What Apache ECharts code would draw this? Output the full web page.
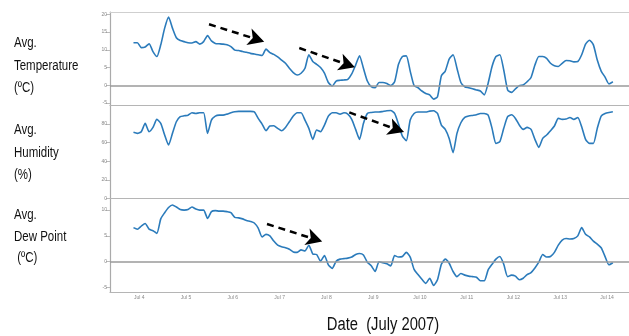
<!DOCTYPE html>
<html>
<head>
<meta charset="utf-8">
<script src="https://cdn.jsdelivr.net/npm/echarts@6/dist/echarts.min.js"></script>
<style>
html,body{margin:0;padding:0;background:#fff;}
#chart{width:629px;height:336px;}
</style>
</head>
<body>
<div id="chart"></div>
<script>
// time: day of July 2007 (fractional), first sample and step (2 hours)
const T0 = 3.875;
const STEP = 1 / 12;
const dayTicks = [4, 5, 6, 7, 8, 9, 10, 11, 12, 13, 14];
const tempTicks = [-5, 0, 5, 10, 15, 20];
const humTicks = [0, 20, 40, 60, 80];
const dewTicks = [-5, 0, 5, 10];

const temperature = [
  12.0, 12.0, 10.6, 10.8, 11.7, 9.5, 8.1, 11.4, 16.1, 19.2,
  16.1, 13.4, 12.6, 12.3, 12.0, 11.9, 12.3, 11.6, 12.3, 14.0,
  12.5, 11.8, 11.7, 11.6, 11.4, 10.9, 9.9, 9.8, 9.5, 9.3,
  9.0, 8.8, 8.6, 8.4, 10.2, 9.2, 8.7, 8.0, 7.1, 6.2,
  4.8, 3.6, 2.9, 3.4, 4.8, 8.6, 6.7, 5.9, 5.0, 3.4,
  0.8, -0.2, 1.2, 1.4, 1.5, 1.7, 3.2, 5.7, 8.3, 4.8,
  1.2, -0.4, -0.7, 0.8, 0.8, 0.5, -0.1, 1.0, 5.9, 8.1,
  8.3, 4.0, -0.1, -0.7, -1.6, -2.3, -2.7, -3.9, -3.2, 2.7,
  4.0, 7.4, 8.6, 4.8, 0.8, -0.4, -0.7, -1.0, -1.3, -1.6,
  -2.7, 0.6, 5.3, 8.1, 8.6, 4.3, -1.3, -2.0, -1.0, -0.1,
  0.1, 1.0, 2.2, 5.7, 8.1, 8.1, 7.6, 6.2, 5.5, 5.3,
  6.2, 7.0, 6.9, 6.6, 6.7, 8.6, 11.6, 12.7, 11.4, 7.1,
  4.0, 2.3, 0.4, 1.0
];

const humidity = [
  71.1, 70.0, 71.8, 80.7, 71.8, 76.4, 85.0, 80.7, 68.2, 57.5,
  70.0, 82.5, 87.9, 88.9, 89.6, 92.1, 91.4, 92.1, 92.1, 70.0,
  84.3, 88.6, 89.6, 89.6, 90.7, 92.1, 93.2, 93.6, 93.6, 93.6,
  93.6, 93.2, 86.1, 80.0, 72.9, 77.9, 78.2, 75.4, 72.9, 76.4,
  82.5, 88.6, 92.1, 92.1, 84.3, 75.4, 63.6, 73.6, 71.8, 78.9,
  88.6, 92.1, 92.1, 90.7, 92.1, 90.7, 85.0, 74.3, 63.6, 80.7,
  91.4, 92.5, 92.9, 92.9, 93.6, 94.3, 94.6, 91.4, 80.0, 67.1,
  62.1, 84.3, 91.4, 92.9, 92.9, 92.9, 93.9, 94.3, 91.4, 78.9,
  74.3, 64.6, 49.3, 70.0, 81.4, 87.1, 88.6, 89.3, 90.0, 91.4,
  91.4, 89.6, 75.4, 59.3, 61.1, 75.4, 87.9, 90.0, 86.1, 78.9,
  74.3, 76.4, 74.3, 63.6, 55.0, 64.6, 68.2, 72.9, 77.9, 86.1,
  85.0, 85.4, 87.1, 85.0, 87.1, 77.1, 63.6, 59.3, 59.3, 75.4,
  88.6, 91.4, 92.5, 93.2
];

const dewPoint = [
  6.6, 6.3, 6.9, 7.4, 6.3, 6.0, 5.5, 8.3, 9.5, 10.5,
  11.0, 10.6, 10.1, 10.0, 10.1, 10.6, 10.2, 10.0, 10.0, 8.4,
  9.7, 9.9, 9.8, 9.8, 9.7, 9.5, 8.6, 8.5, 8.3, 8.0,
  7.8, 7.5, 6.5, 4.8, 5.3, 5.0, 4.0, 3.2, 2.9, 2.7,
  2.4, 1.9, 1.8, 2.3, 2.1, 3.2, 1.5, 1.4, 0.1, 1.2,
  -0.6, -1.3, 0.1, 0.5, 0.6, 0.7, 0.9, 1.4, 1.6, 1.3,
  -0.1, -0.8, -1.9, 0.0, -0.2, -0.4, -0.8, 1.2, 0.9, 1.0,
  1.8, 0.9, -1.5, -2.5, -3.4, -4.2, -3.2, -4.6, -3.5, -0.5,
  0.5, -0.3, -1.9, -2.9, -2.3, -2.6, -2.8, -2.9, -3.0, -3.7,
  -3.7, -1.6, -0.5, 0.5, 1.0, -0.5, -2.9, -2.6, -2.8, -3.5,
  -3.2, -2.5, -2.1, -1.2, -0.1, 1.4, 0.9, 1.0, 1.8, 3.2,
  4.2, 4.5, 4.4, 4.5, 5.0, 6.6, 5.3, 4.8, 4.0, 3.4,
  2.7, 1.0, -0.6, -0.2
];

// trend annotation arrows: [startDay, startValue, endDay, endValue]
const tempArrows = [[5.49, 17.2, 6.67, 12.3], [7.42, 10.5, 8.61, 5.1]];
const humArrows = [[8.49, 92.5, 9.66, 71.4]];
const dewArrows = [[6.73, 7.3, 7.91, 3.9]];

const toPairs = arr => arr.map((v, i) => [T0 + i * STEP, v]);

const LINE_COLOR = '#2b7bbb';
const FONT = '"Liberation Sans", Arial, sans-serif';
const X_MIN = 3.373, X_MAX = 14.47;

function arrowData(list) {
  return list.map(a => [
    { coord: [a[0], a[1]], symbol: 'none' },
    { coord: [a[2], a[3]], symbol: 'arrow', symbolSize: [13, 16] }
  ]);
}
function marks(list, withZero) {
  const data = arrowData(list);
  if (withZero) {
    data.unshift({
      yAxis: 0, symbol: 'none',
      lineStyle: { color: '#9a9a9a', width: 1.5, type: 'solid' }
    });
  }
  return {
    silent: true, symbol: 'none', label: { show: false },
    emphasis: { disabled: true },
    lineStyle: { color: '#000', width: 2.5, type: [7, 5] },
    data: data
  };
}

function yAx(idx, min, max, ticks) {
  return {
    type: 'value', gridIndex: idx, min: min, max: max,
    splitLine: { show: false },
    axisLine: { show: true, lineStyle: { color: '#aaa', width: 1.2 } },
    axisTick: { show: true, customValues: ticks, length: 4, lineStyle: { color: '#bbb' } },
    axisLabel: { customValues: ticks, fontSize: 5, color: '#888', margin: 3, fontFamily: FONT }
  };
}
function xAx(idx, pos, color, labels) {
  return {
    type: 'value', gridIndex: idx, min: X_MIN, max: X_MAX, position: pos,
    splitLine: { show: false },
    axisLine: { show: true, onZero: false, lineStyle: { color: color, width: 1.2 } },
    axisTick: { show: false },
    axisLabel: labels ? {
      show: true, customValues: dayTicks, fontSize: 5, color: '#888', margin: 3,
      fontFamily: FONT, formatter: v => 'Jul ' + v
    } : { show: false }
  };
}
function sideLabel(text, top, lh) {
  return {
    type: 'text', x: 14, y: top, scaleX: 0.82,
    style: { text: text, font: '14px ' + FONT, lineHeight: lh, fill: '#111', verticalAlign: 'top' }
  };
}

const chart = echarts.init(document.getElementById('chart'), null, { renderer: 'canvas' });
chart.setOption({
  animation: false,
  backgroundColor: '#fff',
  grid: [
    { left: 110, right: 0, top: 12, height: 93 },
    { left: 110, right: 0, top: 105, height: 93.5 },
    { left: 110, right: 0, top: 198.5, height: 93.8 }
  ],
  xAxis: [
    xAx(0, 'top', '#cfcfcf', false),
    xAx(1, 'top', '#b5b5b5', false),
    xAx(2, 'top', '#b5b5b5', false),
    xAx(2, 'bottom', '#b5b5b5', true)
  ],
  yAxis: [
    yAx(0, -5.55, 20.65, tempTicks),
    yAx(1, 0, 100.5, humTicks),
    yAx(2, -5.93, 12.25, dewTicks)
  ],
  series: [
    {
      type: 'line', xAxisIndex: 0, yAxisIndex: 0, data: toPairs(temperature),
      showSymbol: false, smooth: 0.2, lineStyle: { color: LINE_COLOR, width: 1.6 },
      markLine: marks(tempArrows, true), z: 3
    },
    {
      type: 'line', xAxisIndex: 1, yAxisIndex: 1, data: toPairs(humidity),
      showSymbol: false, smooth: 0.2, lineStyle: { color: LINE_COLOR, width: 1.6 },
      markLine: marks(humArrows, false), z: 3
    },
    {
      type: 'line', xAxisIndex: 3, yAxisIndex: 2, data: toPairs(dewPoint),
      showSymbol: false, smooth: 0.2, lineStyle: { color: LINE_COLOR, width: 1.6 },
      markLine: marks(dewArrows, true), z: 3
    }
  ],
  graphic: [
    sideLabel('Avg.\nTemperature\n(ºC)', 32, 22.5),
    sideLabel('Avg.\nHumidity\n(%)', 119.5, 22.2),
    sideLabel('Avg.\nDew Point\n (ºC)', 204.5, 21.5),
    {
      type: 'text', x: 383, y: 325.5, scaleX: 0.82,
      style: { text: 'Date  (July 2007)', font: '18px ' + FONT, fill: '#111', align: 'center', verticalAlign: 'middle' }
    }
  ]
});
</script>
</body>
</html>
